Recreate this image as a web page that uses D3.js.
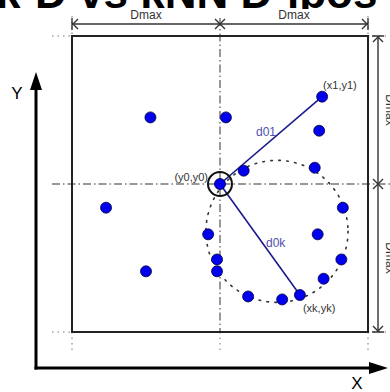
<!DOCTYPE html>
<html><head><meta charset="utf-8">
<script src="https://cdn.jsdelivr.net/npm/d3@7/dist/d3.min.js"></script>
<style>body{margin:0;background:#fff}svg{display:block}text{font-family:"Liberation Sans",Arial,sans-serif}</style>
</head><body><div id="chart"></div>
<script>
// Data (in Dmax units, origin at the query point (y0,y0))
const pointsX = [-0.47, 0.04, 0.69, 0.67, 0.64, 0.16, 0.00, -0.77, 0.83, -0.08, 0.66, -0.02, 0.82, -0.02, -0.50, 0.70, 0.19, 0.42, 0.54];
const pointsY = [0.45, 0.45, 0.59, 0.36, 0.11, 0.09, 0.00, -0.16, -0.16, -0.34, -0.34, -0.51, -0.51, -0.59, -0.59, -0.64, -0.76, -0.78, -0.75];
const queryPoint = [0, 0];
const nearPoint = [0.69, 0.59];    // (x1,y1)
const farPoint = [0.54, -0.75];    // (xk,yk)
const circleCenter = [0.385, -0.32];
const circleRadius = 0.48;
const domainX = [-1, 1];
const domainY = [-1, 1];
const dimLabels = ["Dmax", "Dmax"];
const pointLabels = ["(y0,y0)", "(x1,y1)", "(xk,yk)"];
const distLabels = ["d01", "d0k"];
const axisLabels = ["X", "Y"];
const titleText = "k-D vs kNN D-ipos";

const W = 390, H = 392;
const svg = d3.select("#chart").append("svg").attr("width", W).attr("height", H);
const x = d3.scaleLinear().domain(domainX).range([72, 368]);
const y = d3.scaleLinear().domain(domainY).range([332, 36]);
const cx = x(0), cy = y(0);

// cropped title (only its lower edge shows in the reference)
svg.append("defs").append("clipPath").attr("id", "titleClip")
  .append("rect").attr("x", 0).attr("y", 0).attr("width", W).attr("height", 9);
svg.append("g").attr("clip-path", "url(#titleClip)")
  .append("text").attr("x", -4).attr("y", 8).attr("font-size", 44).attr("font-weight", "bold")
  .attr("fill", "#000").text(titleText);

// dotted extension lines
const dotted = "1.5,4";
const ext = svg.append("g").attr("stroke", "#777").attr("stroke-width", 1).attr("stroke-dasharray", dotted);
[x(-1), x(1)].forEach(v => {
  ext.append("line").attr("x1", v).attr("x2", v).attr("y1", 16).attr("y2", y(1));
  ext.append("line").attr("x1", v).attr("x2", v).attr("y1", y(-1)).attr("y2", 354);
});
ext.append("line").attr("x1", cx).attr("x2", cx).attr("y1", 332).attr("y2", 354);
[y(1), y(-1)].forEach(v => {
  ext.append("line").attr("x1", 52).attr("x2", x(-1)).attr("y1", v).attr("y2", v);
  ext.append("line").attr("x1", x(1)).attr("x2", 392).attr("y1", v).attr("y2", v);
});

// dash-dot center lines
svg.append("line").attr("x1", cx).attr("x2", cx).attr("y1", 18).attr("y2", 332)
  .attr("stroke", "#555").attr("stroke-width", 1.2).attr("stroke-dasharray", "8,3,1.5,3");
svg.append("line").attr("x1", 52).attr("x2", 390).attr("y1", cy).attr("y2", cy)
  .attr("stroke", "#333").attr("stroke-width", 1.2).attr("stroke-dasharray", "8,3,1.5,3");

// square
svg.append("rect").attr("x", x(-1)).attr("y", y(1)).attr("width", x(1) - x(-1)).attr("height", y(-1) - y(1))
  .attr("fill", "none").attr("stroke", "#222").attr("stroke-width", 2);

// dimension arrows
const dim = svg.append("g").attr("stroke", "#333").attr("stroke-width", 1.4).attr("fill", "none");
const ty = 24;
dim.append("line").attr("x1", x(-1)).attr("x2", x(1)).attr("y1", ty).attr("y2", ty);
dim.append("path").attr("d", `M${x(-1)+6},${ty-5}L${x(-1)+1},${ty}L${x(-1)+6},${ty+5}M${x(-1)},${ty-6}V${ty+6}`);
dim.append("path").attr("d", `M${x(1)-6},${ty-5}L${x(1)-1},${ty}L${x(1)-6},${ty+5}M${x(1)},${ty-6}V${ty+6}`);
dim.append("path").attr("d", `M${cx-5},${ty-5}L${cx+5},${ty+5}M${cx+5},${ty-5}L${cx-5},${ty+5}`);
const rx = 378;
dim.append("line").attr("x1", rx).attr("x2", rx).attr("y1", y(1)).attr("y2", y(-1));
dim.append("path").attr("d", `M${rx-5},${y(1)+6}L${rx},${y(1)+1}L${rx+5},${y(1)+6}M${rx-6},${y(1)}H${rx+6}`);
dim.append("path").attr("d", `M${rx-5},${y(-1)-6}L${rx},${y(-1)-1}L${rx+5},${y(-1)-6}M${rx-6},${y(-1)}H${rx+6}`);
dim.append("path").attr("d", `M${rx-5},${cy-5}L${rx+5},${cy+5}M${rx+5},${cy-5}L${rx-5},${cy+5}`);

svg.append("text").attr("x", (x(-1)+cx)/2).attr("y", 19).attr("text-anchor", "middle").attr("font-size", 12).attr("fill", "#333").text(dimLabels[0]);
svg.append("text").attr("x", (x(1)+cx)/2).attr("y", 19).attr("text-anchor", "middle").attr("font-size", 12).attr("fill", "#333").text(dimLabels[1]);
[(y(1)+cy)/2, (y(-1)+cy)/2].forEach((v, i) => {
  svg.append("text").attr("transform", `translate(386,${v}) rotate(90)`).attr("text-anchor", "middle")
    .attr("font-size", 12).attr("fill", "#333").text(dimLabels[i]);
});

// axes
const ax = svg.append("g");
ax.append("line").attr("x1", 36).attr("x2", 36).attr("y1", 369.5).attr("y2", 88).attr("stroke", "#000").attr("stroke-width", 3);
ax.append("path").attr("d", "M36,72L30,90L42,90Z").attr("fill", "#000");
ax.append("line").attr("x1", 34.5).attr("x2", 370).attr("y1", 368).attr("y2", 368).attr("stroke", "#000").attr("stroke-width", 3);
ax.append("path").attr("d", "M388,368L369,362L369,374Z").attr("fill", "#000");
svg.append("text").attr("x", 357).attr("y", 389).attr("text-anchor", "middle").attr("font-size", 17).attr("fill", "#000").text(axisLabels[0]);
svg.append("text").attr("x", 17).attr("y", 99).attr("text-anchor", "middle").attr("font-size", 17).attr("fill", "#000").text(axisLabels[1]);

// dotted neighbourhood circle
svg.append("circle").attr("cx", x(circleCenter[0])).attr("cy", y(circleCenter[1]))
  .attr("r", x(circleRadius) - x(0)).attr("fill", "none").attr("stroke", "#333")
  .attr("stroke-width", 1.6).attr("stroke-dasharray", "1.6,6.4").attr("stroke-linecap", "round");

// distance lines
[nearPoint, farPoint].forEach(p => {
  svg.append("line").attr("x1", x(queryPoint[0])).attr("y1", y(queryPoint[1]))
    .attr("x2", x(p[0])).attr("y2", y(p[1])).attr("stroke", "#1a1a8c").attr("stroke-width", 1.6);
});

// points
svg.append("g").selectAll("circle").data(pointsX.map((v, i) => [v, pointsY[i]])).join("circle")
  .attr("cx", d => x(d[0])).attr("cy", d => y(d[1])).attr("r", 5.5)
  .attr("fill", "#0000ee").attr("stroke", "#00003a").attr("stroke-width", 0.8);

// query ring
svg.append("circle").attr("cx", x(queryPoint[0])).attr("cy", y(queryPoint[1])).attr("r", 12)
  .attr("fill", "none").attr("stroke", "#111").attr("stroke-width", 2);

// labels
svg.append("text").attr("x", x(queryPoint[0]) - 12).attr("y", y(queryPoint[1]) - 3).attr("text-anchor", "end")
  .attr("font-size", 11).attr("fill", "#333").text(pointLabels[0]);
svg.append("text").attr("x", x(nearPoint[0]) + 1).attr("y", y(nearPoint[1]) - 8)
  .attr("font-size", 11).attr("fill", "#333").text(pointLabels[1]);
svg.append("text").attr("x", x(farPoint[0]) + 3).attr("y", y(farPoint[1]) + 17)
  .attr("font-size", 11).attr("fill", "#333").text(pointLabels[2]);
svg.append("text").attr("x", 256).attr("y", 136).attr("font-size", 12).attr("fill", "#5050b0").text(distLabels[0]);
svg.append("text").attr("x", 266).attr("y", 247).attr("font-size", 12).attr("fill", "#5050b0").text(distLabels[1]);
</script></body></html>
